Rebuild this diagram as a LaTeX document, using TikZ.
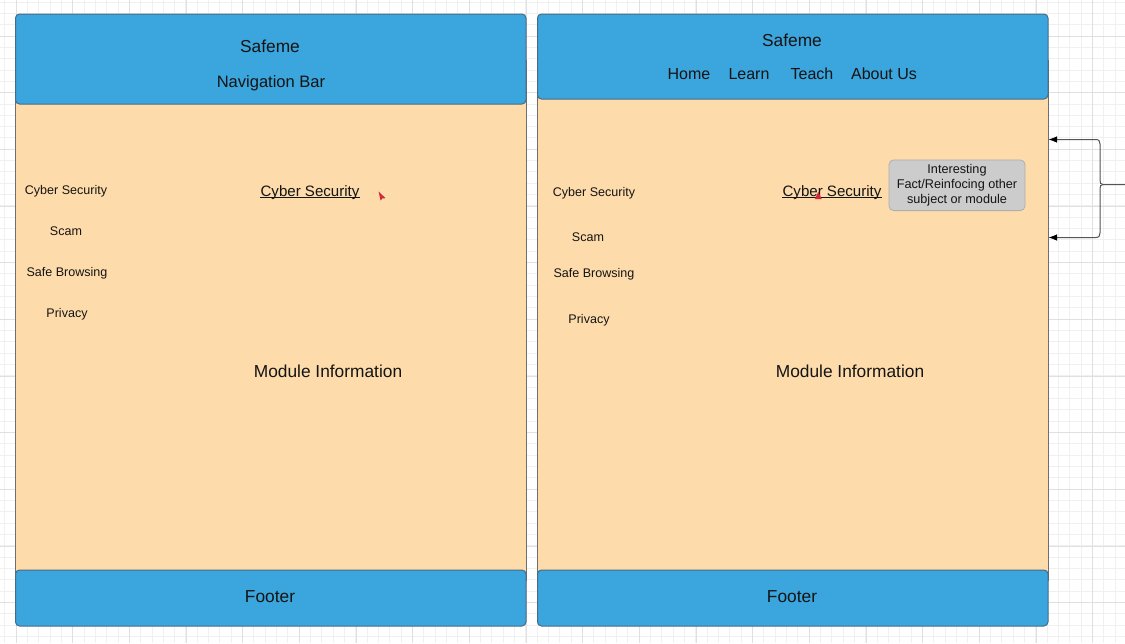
\documentclass[tikz,border=0pt]{standalone}
\usepackage{fontspec}
\setmainfont{Liberation Sans}
\usetikzlibrary{arrows.meta}
\definecolor{peach}{RGB}{253,219,170}
\definecolor{hblue}{RGB}{59,165,221}
\definecolor{hedge}{RGB}{72,108,135}
\definecolor{fedge}{RGB}{110,110,110}
\definecolor{gboxc}{RGB}{204,204,204}
\definecolor{gboxe}{RGB}{175,175,175}
\definecolor{redm}{RGB}{210,40,60}
\definecolor{gminor}{RGB}{240,240,240}
\definecolor{gmajor}{RGB}{224,224,224}
\definecolor{txtc}{RGB}{20,20,20}
\definecolor{linec}{RGB}{85,85,85}
\begin{document}
\begin{tikzpicture}[x=0.75pt,y=-0.75pt,
  body/.style={fill=peach,draw=fedge,line width=0.75pt},
  bar/.style={fill=hblue,draw=hedge,line width=0.75pt,rounded corners=3pt},
  txt/.style={inner sep=0pt,text=txtc,anchor=base},
  big/.style={txt,font=\fontsize{13}{15}\selectfont},
  nav/.style={txt,font=\fontsize{12}{14}\selectfont},
  side/.style={txt,font=\fontsize{9.4}{11}\selectfont},
  link/.style={txt,font=\fontsize{11.3}{13}\selectfont},
  note/.style={draw=gboxe,fill=gboxc,rounded corners=3.5pt,line width=0.6pt,
    minimum width=102pt,minimum height=38pt,inner sep=0pt,align=center,text=txtc,
    font=\fontsize{9.5}{11.25}\selectfont},
  conn/.style={draw=linec,line width=0.75pt},
  arr/.style={conn,-{Latex[length=6.5pt,width=5pt,color=black]}}
]
\useasboundingbox (0,0) rectangle (1125,643);
\fill[white] (0,0) rectangle (1125,643);
% grid
\foreach \i in {0,...,98} {\draw[gminor,line width=0.75pt] ({4.67+11.333*\i},0) -- ({4.67+11.333*\i},643);}
\foreach \i in {0,...,56} {\draw[gminor,line width=0.75pt] (0,{2+11.333*\i}) -- (1125,{2+11.333*\i});}
\foreach \i in {0,...,19} {\draw[gmajor,line width=0.75pt] ({16+56.667*\i},0) -- ({16+56.667*\i},643);}
\foreach \i in {0,...,10} {\draw[gmajor,line width=0.75pt] (0,{36+56.667*\i}) -- (1125,{36+56.667*\i});}

% ---------- left frame ----------
\draw[body] (15.5,60) rectangle (526,580);
\draw[bar] (15.5,14) rectangle (526,104);
\draw[bar] (15.5,570) rectangle (526,626);
\node[big] (lsafe) at (270,52.2) {Safeme};
\node[nav,font=\fontsize{12.4}{14}\selectfont] (lnavbar) at (271,87.9) {Navigation Bar};
\node[side] (lcs) at (66,194.5) {Cyber Security};
\node[side] (lscam) at (66,235.5) {Scam};
\node[side] (lsafeb) at (67,276.5) {Safe Browsing};
\node[side] (lpriv) at (67,317.5) {Privacy};
\node[link] (lcyb) at (310,196.2) {Cyber Security};
\draw[txtc,line width=0.75pt] ([yshift=-1.2pt]lcyb.base west) -- ([yshift=-1.2pt]lcyb.base east);
\fill[redm] (378.6,191.6) -- (385.6,198.2) -- (382.3,198.4) -- (380.6,200.6) -- cycle;
\node[big] (lmod) at (328,377.2) {Module Information};
\node[big] (lfoot) at (270,602.2) {Footer};

% ---------- right frame ----------
\draw[body] (537.5,60) rectangle (1048,580);
\draw[bar] (537.5,14) rectangle (1048,99);
\draw[bar] (537.5,570) rectangle (1048,626);
\node[big] (rsafe) at (792,46.2) {Safeme};
\node[nav] (rhome) at (689,79.7) {Home};
\node[nav] (rlearn) at (749,79.7) {Learn};
\node[nav] (rteach) at (812,79.7) {Teach};
\node[nav] (rabout) at (884,79.7) {About Us};
\node[side] (rcs) at (594,196.5) {Cyber Security};
\node[side] (rscam) at (588,241.5) {Scam};
\node[side] (rsafeb) at (594,277.5) {Safe Browsing};
\node[side] (rpriv) at (589,323.5) {Privacy};
\node[link] (rcyb) at (832,196.2) {Cyber Security};
\draw[txtc,line width=0.75pt] ([yshift=-1.2pt]rcyb.base west) -- ([yshift=-1.2pt]rcyb.base east);
\fill[redm] (818.3,191.8) -- (821.8,199.2) -- (814.8,199.2) -- cycle;
\node[note] (fact) at (957,185.3) {Interesting\\Fact/Reinfocing other\\subject or module};
\node[big] (rmod) at (850,377.2) {Module Information};
\node[big] (rfoot) at (792,602.2) {Footer};

% ---------- brace connector ----------
\coordinate (bsrc) at (1125,184.5);
\coordinate (btip) at (1103,184.5);
\coordinate (tA) at (1048.5,139.5);
\coordinate (tB) at (1048.5,237.5);
\draw[arr] (bsrc) -- (btip) .. controls (1100.5,184.5) and (1100,183) .. (1100,180)
  -- (1100,144) .. controls (1100,141) and (1099,139.5) .. (1095.5,139.5) -- (tA);
\draw[arr] (btip) .. controls (1100.5,184.5) and (1100,186) .. (1100,189)
  -- (1100,233) .. controls (1100,236) and (1099,237.5) .. (1095.5,237.5) -- (tB);
\end{tikzpicture}
\end{document}
